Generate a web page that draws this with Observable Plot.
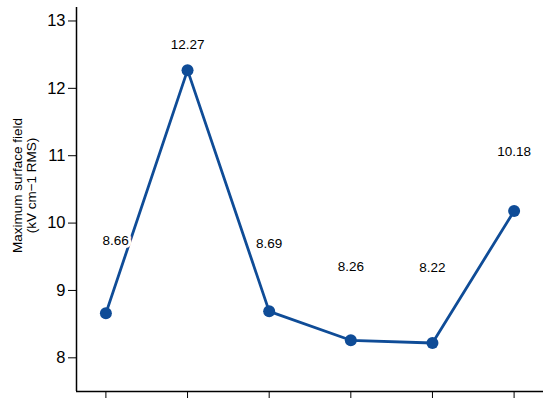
<!DOCTYPE html>
<html>
<head>
<meta charset="utf-8">
<script src="https://cdn.jsdelivr.net/npm/d3@7"></script>
<script src="https://cdn.jsdelivr.net/npm/@observablehq/plot@0.6"></script>
<style>
  html, body { margin: 0; padding: 0; background: #fff; }
  body { width: 550px; height: 404px; overflow: hidden; font-family: "Liberation Sans", Arial, sans-serif; }
</style>
</head>
<body>
<div id="chart"></div>
<script>
// Data
const categories = [0, 1, 2, 3, 4, 5];
const values = [8.66, 12.27, 8.69, 8.26, 8.22, 10.18];
const valueLabels = ["8.66", "12.27", "8.69", "8.26", "8.22", "10.18"];
// annotation anchors (data units) for the value labels
const labelX = [0.12, 1, 2, 3, 4, 5];
const labelY = [9.74, 12.65, 9.70, 9.35, 9.34, 11.06];
const yTicks = [8, 9, 10, 11, 12, 13];
const yTitle = "Maximum surface field\n(kV cm\u22121 RMS)";

const points = categories.map((c, i) => ({x: c, y: values[i]}));
const labels = categories.map((c, i) => ({x: labelX[i], y: labelY[i], t: valueLabels[i]}));

const color = "#0f4c97";

const chart = Plot.plot({
  width: 550,
  height: 404,
  marginLeft: 76,
  marginRight: 7,
  marginTop: 7,
  marginBottom: 13,
  style: {fontFamily: "'Liberation Sans', Arial, sans-serif", background: "white", color: "black"},
  x: {domain: [-0.36, 5.36], axis: null},
  y: {domain: [7.5, 13.2], axis: null},
  marks: [
    Plot.line(points, {x: "x", y: "y", stroke: color, strokeWidth: 2.8}),
    Plot.text(labels, {x: "x", y: "y", text: "t", fontSize: 13.5, fill: "black", stroke: "white", strokeWidth: 6}),
    Plot.dot(points, {x: "x", y: "y", r: 6, fill: color, stroke: "none"}),
    Plot.axisY({ticks: yTicks, tickSize: 8, tickPadding: 3, fontSize: 16.5, label: null, tickFormat: d => String(d)}),
    Plot.ruleX([-0.36], {stroke: "black", strokeWidth: 1.5}),
    Plot.axisX({ticks: categories, tickSize: 7, tickFormat: () => "", label: null}),
    Plot.ruleY([7.5], {stroke: "black", strokeWidth: 1.5}),
    Plot.text([yTitle], {frameAnchor: "left", dx: -52, dy: -14, rotate: -90, textAnchor: "middle", text: d => d, fontSize: 13.5, lineHeight: 1.02, lineAnchor: "middle", fill: "black"})
  ]
});
document.getElementById("chart").appendChild(chart);
</script>
</body>
</html>
